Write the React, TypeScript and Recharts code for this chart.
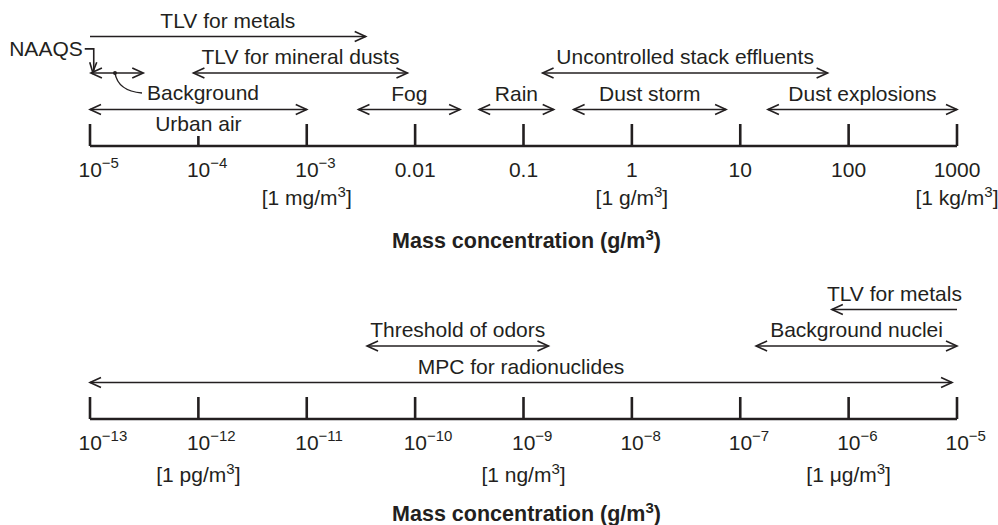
import { ComposedChart, ReferenceLine, Scatter, XAxis, YAxis } from 'recharts'

const INK = '#231f20'
const FONT = '"Liberation Sans", Arial, Helvetica, sans-serif'
const FS = 21

// top scale: 10^-5 .. 1000 g/m3
const topTicks = [1e-5, 1e-4, 1e-3, 0.01, 0.1, 1, 10, 100, 1000]
const topTickLabels = ['10^−5', '10^−4', '10^−3', '0.01', '0.1', '1', '10', '100', '1000']
const topUnits = [
  { at: 1e-3, text: '1 mg/m' },
  { at: 1, text: '1 g/m' },
  { at: 1000, text: '1 kg/m' },
]
const topRanges = [
  { name: 'TLV for metals', from: 1e-5, to: 3.5e-3, row: 3, heads: 'end' },
  { name: 'TLV for mineral dusts', from: 9e-5, to: 8.5e-3, row: 2, heads: 'both' },
  { name: 'Background', from: 1.02e-5, to: 3.1e-5, row: 2, heads: 'both' },
  { name: 'Uncontrolled stack effluents', from: 0.15, to: 64, row: 2, heads: 'both' },
  { name: 'Urban air', from: 1e-5, to: 1e-3, row: 1, heads: 'both' },
  { name: 'Fog', from: 3e-3, to: 0.026, row: 1, heads: 'both' },
  { name: 'Rain', from: 0.039, to: 0.19, row: 1, heads: 'both' },
  { name: 'Dust storm', from: 0.29, to: 7.4, row: 1, heads: 'both' },
  { name: 'Dust explosions', from: 18, to: 1000, row: 1, heads: 'both' },
]
const naaqs = { name: 'NAAQS', at: 1.06e-5 }
const backgroundDot = 1.7e-5

// bottom scale: 10^-13 .. 10^-5 g/m3
const bottomTicks = [1e-13, 1e-12, 1e-11, 1e-10, 1e-9, 1e-8, 1e-7, 1e-6, 1e-5]
const bottomTickLabels = ['10^−13', '10^−12', '10^−11', '10^−10', '10^−9', '10^−8', '10^−7', '10^−6', '10^−5']
const bottomUnits = [
  { at: 1e-12, text: '1 pg/m' },
  { at: 1e-9, text: '1 ng/m' },
  { at: 1e-6, text: '1 μg/m' },
]
const bottomRanges = [
  { name: 'TLV for metals', from: 7e-7, to: 1e-5, row: 3, heads: 'start' },
  { name: 'Threshold of odors', from: 3.6e-11, to: 1.7e-9, row: 2, heads: 'both' },
  { name: 'Background nuclei', from: 1.4e-7, to: 1e-5, row: 2, heads: 'both' },
  { name: 'MPC for radionuclides', from: 1e-13, to: 9e-6, row: 1, heads: 'both' },
]

type Range = { name: string; from: number; to: number; row: number; heads: string }

function Head({ x, y, dir }: { x: number; y: number; dir: number }) {
  const h = 11
  const w = 5
  return (
    <polyline
      points={`${x + dir * h},${y - w} ${x},${y} ${x + dir * h},${y + w}`}
      fill="none"
      stroke={INK}
      strokeWidth={1.6}
    />
  )
}

function RangeArrow(props: any) {
  const { x1, y1, x2, r, callout, dotX } = props
  const item = r as Range
  const below = item.name === 'Urban air'
  return (
    <g>
      <line x1={x1} y1={y1} x2={x2} y2={y1} stroke={INK} strokeWidth={1.6} />
      {item.heads !== 'end' && <Head x={x1} y={y1} dir={1} />}
      {item.heads !== 'start' && <Head x={x2} y={y1} dir={-1} />}
      {callout ? (
        <g>
          <circle cx={dotX} cy={y1} r={2} fill={INK} />
          <path
            d={`M${dotX},${y1} Q${dotX + 3},${y1 + 18} ${dotX + 27},${y1 + 20}`}
            fill="none"
            stroke={INK}
            strokeWidth={1.4}
          />
          <text x={dotX + 32} y={y1 + 27} fill={INK} fontSize={FS} fontFamily={FONT}>
            {item.name}
          </text>
        </g>
      ) : (
        <text
          x={(x1 + x2) / 2}
          y={below ? y1 + 21 : y1 - 9}
          textAnchor="middle"
          fill={INK}
          fontSize={FS}
          fontFamily={FONT}
        >
          {item.name}
        </text>
      )}
    </g>
  )
}

function NaaqsMark(props: any) {
  const { x1, y1, y2 } = props
  return (
    <g>
      <path d={`M${x1 - 8},${y1} H${x1 + 1} V${y2}`} fill="none" stroke={INK} strokeWidth={1.6} />
      <polyline
        points={`${x1 - 3},${y2 - 10} ${x1},${y2} ${x1 + 4},${y2 - 10}`}
        fill="none"
        stroke={INK}
        strokeWidth={1.6}
      />
      <text x={x1 - 10} y={y1 + 7} textAnchor="end" fill={INK} fontSize={FS} fontFamily={FONT}>
        {naaqs.name}
      </text>
    </g>
  )
}

function makeTick(ticks: number[], labels: string[], units: { at: number; text: string }[], shortAt: number[], unitDy: number) {
  return (props: any) => {
    const { x, y, payload } = props
    const i = ticks.findIndex((t) => Math.abs(Math.log10(t) - Math.log10(payload.value)) < 1e-6)
    const v = ticks[i]
    const label = labels[i] ?? ''
    const [base, exp] = label.split('^')
    const unit = units.find((u) => u.at === v)
    const tickLen = shortAt.includes(v) ? 10 : 22
    return (
      <g>
        <line x1={x} y1={y} x2={x} y2={y - tickLen} stroke={INK} strokeWidth={2.6} />
        {exp ? (
          <text x={x - 11.5} y={y + 31} fill={INK} fontSize={FS} fontFamily={FONT}>
            {base}
            <tspan dy={-9} fontSize={15}>
              {exp}
            </tspan>
          </text>
        ) : (
          <text x={x} y={y + 31} textAnchor="middle" fill={INK} fontSize={FS} fontFamily={FONT}>
            {base}
          </text>
        )}
        {unit && (
          <text x={x} y={y + unitDy} textAnchor="middle" fill={INK} fontSize={FS} fontFamily={FONT}>
            [{unit.text}
            <tspan dy={-8} fontSize={15}>
              3
            </tspan>
            <tspan dy={8}>]</tspan>
          </text>
        )}
      </g>
    )
  }
}

function AxisTitle(props: any) {
  const vb = props.viewBox
  return (
    <text
      x={vb.x + vb.width / 2 + 3}
      y={vb.y + 102}
      textAnchor="middle"
      fill={INK}
      fontSize={21.5}
      fontWeight="bold"
      fontFamily={FONT}
    >
      Mass concentration (g/m
      <tspan dy={-8} fontSize={15}>
        3
      </tspan>
      <tspan dy={8}>)</tspan>
    </text>
  )
}

function Scale({
  ticks,
  labels,
  units,
  ranges,
  height,
  shortAt,
  unitDy,
  top,
}: {
  ticks: number[]
  labels: string[]
  units: { at: number; text: string }[]
  ranges: Range[]
  height: number
  shortAt: number[]
  unitDy: number
  top: boolean
}) {
  const domain = [ticks[0], ticks[ticks.length - 1]]
  const endpoints = ranges.flatMap((r) => [
    { x: r.from, y: r.row },
    { x: r.to, y: r.row },
  ])
  return (
    <ComposedChart width={998} height={height} margin={{ top: 0, right: 41, left: 90, bottom: 0 }} data={endpoints}>
      <XAxis
        dataKey="x"
        type="number"
        scale="log"
        domain={domain}
        ticks={ticks}
        interval={0}
        allowDataOverflow
        height={height - 146}
        tickSize={0}
        tickMargin={0}
        tickLine={false}
        axisLine={{ stroke: INK, strokeWidth: 2.6 }}
        tick={makeTick(ticks, labels, units, shortAt, unitDy)}
        label={(p: any) => <AxisTitle {...p} />}
      />
      <YAxis dataKey="y" type="number" domain={[0, 4]} allowDataOverflow hide />
      <Scatter dataKey="y" fill="none" stroke="none" isAnimationActive={false} legendType="none" />
      {ranges.map((r) => (
        <ReferenceLine
          key={r.name}
          segment={[
            { x: r.from, y: r.row },
            { x: r.to, y: r.row },
          ]}
          ifOverflow="visible"
          shape={(p: any) => (
            <RangeArrow
              {...p}
              r={r}
              callout={top && r.name === 'Background'}
              dotX={p.x1 + ((p.x2 - p.x1) * Math.log10(backgroundDot / r.from)) / Math.log10(r.to / r.from)}
            />
          )}
        />
      ))}
      {top && (
        <ReferenceLine
          segment={[
            { x: naaqs.at, y: 2.66 },
            { x: naaqs.at, y: 2.02 },
          ]}
          ifOverflow="visible"
          shape={(p: any) => <NaaqsMark {...p} />}
        />
      )}
    </ComposedChart>
  )
}

export default function App() {
  return (
    <div style={{ position: 'absolute', left: 0, top: 0, width: 998, height: 525, background: '#fff' }}>
      <div style={{ position: 'absolute', left: 0, top: 0 }}>
        <Scale
          ticks={topTicks}
          labels={topTickLabels}
          units={topUnits}
          ranges={topRanges}
          height={260}
          shortAt={[1e-4]}
          unitDy={59}
          top
        />
      </div>
      <div style={{ position: 'absolute', left: 0, top: 273 }}>
        <Scale
          ticks={bottomTicks}
          labels={bottomTickLabels}
          units={bottomUnits}
          ranges={bottomRanges}
          height={252}
          shortAt={[]}
          unitDy={63}
          top={false}
        />
      </div>
    </div>
  )
}
